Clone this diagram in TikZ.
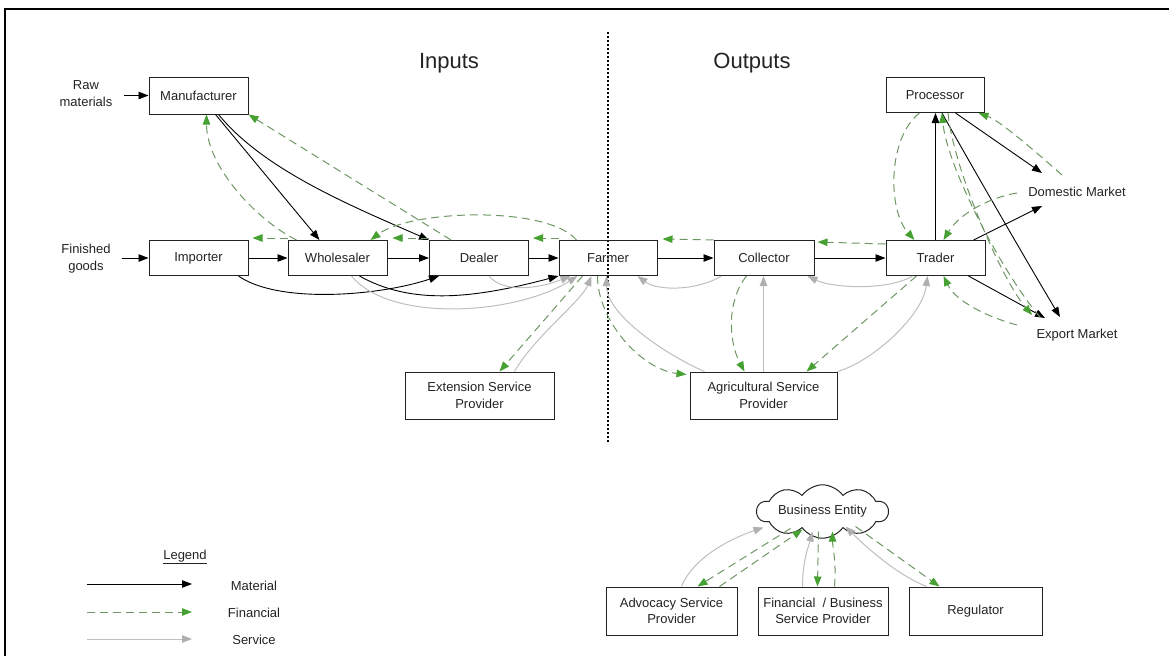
\documentclass[tikz,border=0pt]{standalone}
\usepackage{fontspec}
\setmainfont{Liberation Sans}
\usetikzlibrary{arrows.meta,calc,shapes.symbols}
\definecolor{fline}{RGB}{110,150,100}
\definecolor{fhead}{RGB}{70,160,50}
\definecolor{sline}{RGB}{190,190,190}
\definecolor{shead}{RGB}{175,175,175}
\definecolor{ink}{RGB}{35,35,35}
\begin{document}
\begin{tikzpicture}[x=1pt,y=-1pt,
  txt/.style={font=\fontsize{13}{16.5}\selectfont, text=ink, align=center},
  box/.style={txt, draw=ink, line width=1pt, inner sep=2pt},
  mat/.style={draw=black, line width=0.9pt, -{Triangle[length=10pt,width=7.5pt]}},
  fin/.style={draw=fline, line width=1pt, dash pattern=on 8pt off 5pt, -{Triangle[length=10pt,width=7.5pt,color=fhead]}},
  srv/.style={draw=sline, line width=1pt, -{Triangle[length=10pt,width=7.5pt,color=shead]}},
]
\useasboundingbox (0,0) rectangle (1169,656);

% frame and the inputs/outputs divider
\draw[line width=2pt, black] (5,656) -- (5,9) -- (1169,9);
\draw[line width=1.3pt, dash pattern=on 1.5pt off 2.5pt] (608,32) -- (608,442);
\node[font=\fontsize{22}{26}\selectfont, text=ink] (tin) at (449,63) {Inputs};
\node[font=\fontsize{22}{26}\selectfont, text=ink] (tout) at (752,63) {Outputs};

% actors
\node[box, minimum width=99pt, minimum height=37pt] (mfr) at (198.5,95.5) {Manufacturer};
\node[box, minimum width=99pt, minimum height=35pt] (imp) at (198.5,258) {Importer};
\node[box, minimum width=99pt, minimum height=35pt] (whl) at (337.5,258) {Wholesaler};
\node[box, minimum width=99pt, minimum height=35pt] (dlr) at (479,258) {Dealer};
\node[box, minimum width=98pt, minimum height=35pt] (frm) at (608,258) {Farmer};
\node[box, minimum width=100pt, minimum height=35pt] (col) at (764,258) {Collector};
\node[box, minimum width=99pt, minimum height=35pt] (trd) at (935.5,258) {Trader};
\node[box, minimum width=98pt, minimum height=35pt] (prc) at (935,95) {Processor};
\node[box, minimum width=149pt, minimum height=47pt] (esp) at (479.5,395.5) {Extension Service\\Provider};
\node[box, minimum width=147pt, minimum height=47pt] (asp) at (763.5,395.5) {Agricultural Service\\Provider};
\node[box, minimum width=131pt, minimum height=48pt] (adv) at (671.5,611) {Advocacy Service\\Provider};
\node[box, minimum width=130pt, minimum height=48pt] (fbs) at (823,611) {Financial\ \ / Business\\Service Provider};
\node[box, minimum width=133pt, minimum height=48pt] (reg) at (975.5,611) {Regulator};
\node[txt, draw=ink, line width=1pt, cloud, cloud puffs=10, cloud puff arc=110, aspect=3.6,
      minimum width=131pt, minimum height=37pt, inner sep=0pt] (be) at (822.5,511.5) {Business Entity};

% sources and markets
\node[txt] (raw) at (86,93.5) {Raw\\materials};
\node[txt] (fgd) at (86,258.5) {Finished\\goods};
\node[txt, inner sep=2pt] (dom) at (1077,192) {Domestic Market};
\node[txt, inner sep=2pt] (exp) at (1077,335) {Export Market};

% material flows
\draw[mat] ($(raw.east |- mfr.west)+(8,0)$) -- (mfr.west);
\draw[mat] ($(fgd.east |- imp.west)+(8,0)$) -- (imp.west);
\draw[mat] (imp.east) -- (whl.west);
\draw[mat] (whl.east) -- (dlr.west);
\draw[mat] (dlr.east) -- (frm.west);
\draw[mat] (frm.east) -- (col.west);
\draw[mat] (col.east) -- (trd.west);
\draw[mat] (trd.north) -- (trd.north |- prc.south);
\draw[mat] ($(mfr.south west)+(67,0)$) -- ($(whl.north west)+(32,0)$);
\draw[mat] ($(mfr.south west)+(70,0)$) .. controls +(45,55) and +(-80,-35) .. (dlr.north west);
\draw[mat] ($(whl.south west)+(72,0)$) .. controls +(50,28) and +(-90,24) .. (frm.south west);
\draw[mat] ($(imp.south east)+(-10,0)$) .. controls +(40,28) and +(-60,20) .. ($(dlr.south west)+(10,0)$);
\draw[mat] ($(trd.north east)+(-12,0)$) -- ($(dom.center)+(-35,14)$);
\draw[mat] ($(prc.south east)+(-29,0)$) -- ($(dom.center)+(-35,-19)$);
\draw[mat] ($(trd.south east)+(-17,0)$) -- ($(exp.center)+(-32,-17)$);
\draw[mat] ($(prc.south)+(7,0)$) .. controls +(25,45) and +(-30,-50) .. ($(exp.center)+(-17,-18)$);

% financial flows
\draw[fin] ($(whl.north west)+(9,0)$) .. controls +(-40,-20) and +(0,52) .. ($(mfr.south west)+(58,0)$);
\draw[fin] ($(dlr.north west)+(22,0)$) -- (mfr.south east);
\draw[fin] ($(frm.north west)+(18,0)$) .. controls +(-30,-35) and +(40,-30) .. ($(whl.north east)+(-17,0)$);
\draw[fin] ($(dlr.north west)+(0,-2)$) -- ($(whl.north east)+(5,-2)$);
\draw[fin] ($(whl.north west)+(0,-2)$) -- ($(imp.north east)+(4,-2)$);
\draw[fin] ($(frm.north west)+(0,-2)$) -- ($(dlr.north east)+(4,-2)$);
\draw[fin] (col.north west) -- ($(frm.north east)+(5,-1)$);
\draw[fin] ($(trd.north west)+(0,4)$) -- ($(col.north east)+(3,2)$);
\draw[fin] ($(prc.south west)+(34,0)$) .. controls +(-32,25) and +(-27,-30) .. ($(trd.north west)+(29,0)$);
\draw[fin] ($(dom.center)+(-60,1)$) .. controls +(-30,5) and +(15,-25) .. ($(trd.north)+(8,0)$);
\draw[fin] ($(dom.center)+(-15,-17)$) .. controls +(-25,-22) and +(22,8) .. ($(prc.south east)+(-6,0)$);
\draw[fin] ($(exp.center)+(-60,-10)$) .. controls +(-30,-8) and +(12,25) .. ($(trd.south)+(8,0)$);
\draw[fin] ($(exp.center)+(-37,-18)$) .. controls +(-35,-40) and +(5,55) .. ($(prc.south)+(7,0)$);
\draw[fin] ($(prc.south)+(13,0)$) .. controls +(5,55) and +(-30,-35) .. ($(exp.center)+(-45,-20)$);
\draw[fin] ($(frm.south west)+(24,0)$) -- ($(esp.north west)+(95,0)$);
\draw[fin] ($(frm.south west)+(39,0)$) .. controls +(0,45) and +(-45,-5) .. ($(asp.north west)+(-3,3)$);
\draw[fin] ($(col.south west)+(33,0)$) .. controls +(-20,25) and +(-16,-30) .. ($(asp.north west)+(55,0)$);
\draw[fin] ($(trd.south west)+(31,0)$) -- ($(asp.north west)+(117,0)$);

% service flows
\draw[srv] ($(dlr.south west)+(60,0)$) .. controls +(15,18) and +(-30,12) .. ($(frm.south west)+(12,0)$);
\draw[srv] ($(whl.south west)+(64,0)$) .. controls +(40,48) and +(-60,38) .. ($(frm.south west)+(19,0)$);
\draw[srv] ($(esp.north west)+(110,0)$) .. controls +(20,-35) and +(-10,25) .. ($(frm.south west)+(33,0)$);
\draw[srv] ($(asp.north west)+(15,0)$) .. controls +(-35,-15) and +(0,40) .. ($(frm.south west)+(48,0)$);
\draw[srv] ($(col.south west)+(8,0)$) .. controls +(-25,15) and +(20,15) .. ($(frm.south east)+(-20,0)$);
\draw[srv] ($(trd.south west)+(27,0)$) .. controls +(-25,15) and +(25,12) .. ($(col.south east)+(-7,0)$);
\draw[srv] (asp.north) -- (asp.north |- col.south);
\draw[srv] (asp.north east) .. controls +(35,-10) and +(-5,40) .. ($(trd.south west)+(42,0)$);

% business entity and its support services
\draw[srv] ($(adv.north west)+(76,0)$) .. controls +(12,-30) and +(-30,10) .. ($(be.center)+(-59,16)$);
\draw[fin] ($(be.center)+(-32,17)$) -- ($(adv.north west)+(92,0)$);
\draw[fin] ($(adv.north west)+(114,0)$) -- ($(be.center)+(-20,18)$);
\draw[srv] ($(fbs.north west)+(45,0)$) .. controls +(0,-25) and +(-4,15) .. ($(be.center)+(-10,20)$);
\draw[fin] ($(be.center)+(-4,20)$) -- ($(fbs.north west)+(60,0)$);
\draw[fin] ($(fbs.north west)+(77,0)$) .. controls +(2,-25) and +(0,15) .. ($(be.center)+(10,20)$);
\draw[srv] ($(reg.north west)+(18,0)$) .. controls +(-30,-12) and +(20,20) .. ($(be.center)+(23,15)$);
\draw[fin] ($(be.center)+(33,15)$) -- ($(reg.north west)+(31,0)$);

% legend
\node[txt] (lg) at (185,557) {\underline{Legend}};
\node[txt] (lgm) at (254,586) {Material};
\node[txt] (lgf) at (254,613) {Financial};
\node[txt] (lgs) at (254,640) {Service};
\coordinate (lm0) at (87,584); \coordinate (lm1) at (192,584);
\coordinate (lf0) at (87,612); \coordinate (lf1) at (192,612);
\coordinate (ls0) at (87,639); \coordinate (ls1) at (192,639);
\draw[mat] (lm0) -- (lm1);
\draw[fin] (lf0) -- (lf1);
\draw[srv] (ls0) -- (ls1);
\end{tikzpicture}
\end{document}
